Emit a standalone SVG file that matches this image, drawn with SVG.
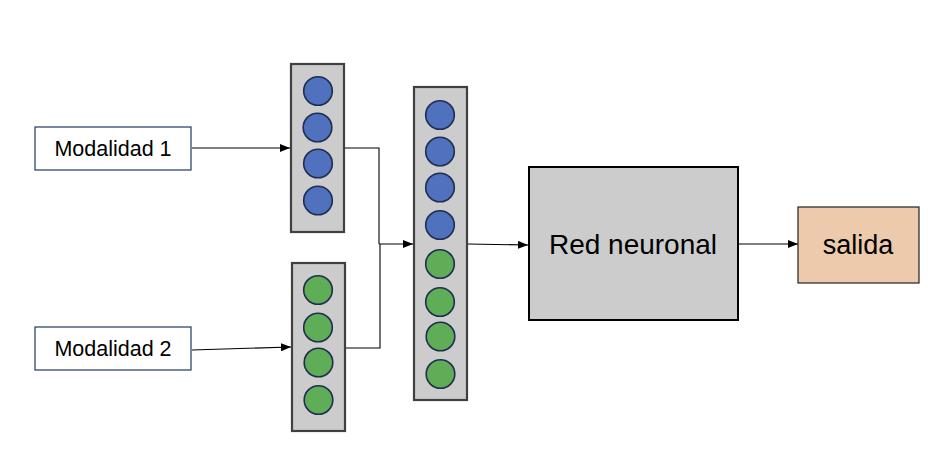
<svg xmlns="http://www.w3.org/2000/svg" width="946" height="466" viewBox="0 0 946 466">
<style>
.vec{fill:#cccccc;stroke:#404040;stroke-width:2.2}
.b{fill:#4f71be;stroke:#1f2d50;stroke-width:1.6}
.g{fill:#5fad56;stroke:#1f2d50;stroke-width:1.6}
.inp{fill:#ffffff;stroke:#1f3864;stroke-width:1.2}
.t{font-family:"Liberation Sans",Arial,sans-serif;fill:#000;text-anchor:middle}
.c{fill:none;stroke:#000;stroke-width:1.1}
</style>
<defs>
<marker id="ah" markerWidth="10" markerHeight="8" refX="10" refY="4" orient="auto" markerUnits="userSpaceOnUse">
<path d="M0,0 L10,4 L0,8 Z" fill="#000"/>
</marker>
</defs>
<rect width="946" height="466" fill="#ffffff"/>
<g id="connectors">
<line class="c" x1="192" y1="148" x2="290" y2="148" marker-end="url(#ah)"/>
<line class="c" x1="192" y1="350" x2="291" y2="347" marker-end="url(#ah)"/>
<polyline class="c" points="345,148 379,148 379,244"/>
<polyline class="c" points="346,348 380,348 380,244" stroke="#666"/>
<line class="c" x1="379" y1="244" x2="413" y2="244" marker-end="url(#ah)"/>
<line class="c" x1="468" y1="244" x2="528" y2="245" marker-end="url(#ah)"/>
<line class="c" x1="739" y1="244" x2="798" y2="244" marker-end="url(#ah)"/>
</g>
<g id="modalidad1">
<rect class="inp" x="35" y="127" width="156" height="43"/>
<text class="t" x="113" y="156" font-size="21.5">Modalidad 1</text>
</g>
<g id="modalidad2">
<rect class="inp" x="35" y="327" width="156" height="43"/>
<text class="t" x="113" y="356" font-size="21.5">Modalidad 2</text>
</g>
<g id="vector1">
<rect class="vec" x="291" y="64" width="53" height="168"/>
<circle class="b" cx="318" cy="91" r="14.3"/>
<circle class="b" cx="317.5" cy="127.5" r="14.3"/>
<circle class="b" cx="318" cy="163.5" r="14.3"/>
<circle class="b" cx="318" cy="200.5" r="14.3"/>
</g>
<g id="vector2">
<rect class="vec" x="292" y="263" width="53" height="168"/>
<circle class="g" cx="318" cy="290" r="14.3"/>
<circle class="g" cx="318" cy="327.5" r="14.3"/>
<circle class="g" cx="318.5" cy="362.5" r="14.3"/>
<circle class="g" cx="318.5" cy="400" r="14.3"/>
</g>
<g id="vector_concat">
<rect class="vec" x="414" y="87" width="53" height="313"/>
<circle class="b" cx="440" cy="115" r="14.3"/>
<circle class="b" cx="440" cy="151.5" r="14.3"/>
<circle class="b" cx="440" cy="187.5" r="14.3"/>
<circle class="b" cx="440" cy="225" r="14.3"/>
<circle class="g" cx="440" cy="264" r="14.3"/>
<circle class="g" cx="440" cy="302" r="14.3"/>
<circle class="g" cx="440.5" cy="336.5" r="14.3"/>
<circle class="g" cx="440.5" cy="374" r="14.3"/>
</g>
<g id="red_neuronal">
<rect x="529" y="167" width="209" height="153" fill="#cccccc" stroke="#000" stroke-width="2"/>
<text class="t" x="633" y="254" font-size="28">Red neuronal</text>
</g>
<g id="salida">
<rect x="798" y="207" width="121" height="76" fill="#edcaab" stroke="#222" stroke-width="1.2"/>
<text class="t" x="858" y="254" font-size="27">salida</text>
</g>
</svg>
